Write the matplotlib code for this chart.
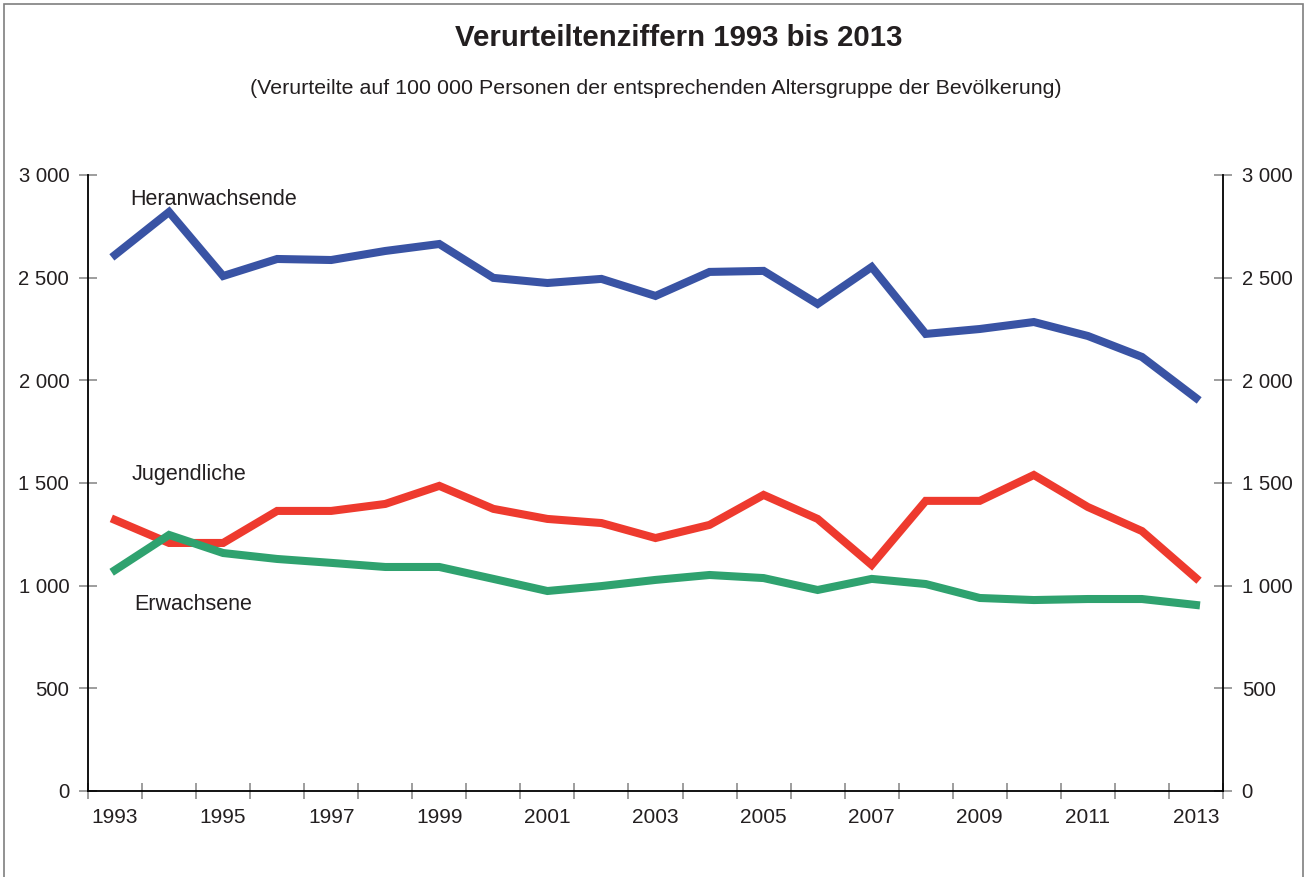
import matplotlib
matplotlib.use("Agg")
import matplotlib.pyplot as plt
from matplotlib.ticker import FuncFormatter, MultipleLocator
from matplotlib.patches import Rectangle

plt.rcParams['font.family'] = ['Liberation Sans', 'DejaVu Sans']

years = list(range(1993, 2014))
heranwachsende = [2611, 2820, 2508, 2591, 2586, 2630, 2664, 2499, 2474, 2494, 2411,
                  2528, 2533, 2372, 2552, 2226, 2250, 2284, 2216, 2114, 1914]
jugendliche = [1320, 1208, 1208, 1364, 1364, 1398, 1486, 1374, 1325, 1305, 1232,
               1296, 1442, 1325, 1101, 1413, 1413, 1539, 1383, 1266, 1037]
erwachsene = [1076, 1247, 1159, 1130, 1111, 1091, 1091, 1033, 974, 998, 1028,
              1052, 1037, 979, 1033, 1008, 940, 930, 935, 935, 906]

BLUE = "#3953a4"
RED = "#ee3a2e"
GREEN = "#2fa26f"
TXT = "#231f20"

fig = plt.figure(figsize=(13.06, 8.77), dpi=100)
ax = fig.add_axes([88/1306, 1-791/877, (1223-88)/1306, (791-175)/877])

x = list(range(len(years)))
ax.plot(x, heranwachsende, color=BLUE, lw=5.8, solid_joinstyle="miter")
ax.plot(x, jugendliche, color=RED, lw=5.8, solid_joinstyle="miter")
ax.plot(x, erwachsene, color=GREEN, lw=5.8, solid_joinstyle="miter")

ax.set_xlim(-0.5, len(years) - 0.5)
ax.set_ylim(0, 3000)

fmt = FuncFormatter(lambda v, p: f"{int(v):,}".replace(",", " "))
ax.yaxis.set_major_locator(MultipleLocator(500))
ax.yaxis.set_major_formatter(fmt)
ax.tick_params(axis="y", which="major", direction="inout", length=13, width=1.2,
               color="#8c8c8c", labelsize=14.6, labelcolor=TXT, pad=7,
               left=True, right=True, labelleft=True, labelright=True)

ax.set_xticks(x[::2])
ax.set_xticklabels([str(y) for y in years[::2]])
ax.set_xticks([i - 0.5 for i in range(len(years) + 1)], minor=True)
ax.tick_params(axis="x", which="major", length=0, labelsize=15, labelcolor=TXT, pad=12)
ax.tick_params(axis="x", which="minor", direction="inout", length=12, width=1.2,
               color="#8c8c8c")

for s in ["left", "right", "bottom"]:
    ax.spines[s].set_linewidth(1.3)
    ax.spines[s].set_color("black")
ax.spines["top"].set_visible(False)

ax.text(0.28, 2879, "Heranwachsende", fontsize=15.5, color=TXT, va="center", ha="left")
ax.text(0.30, 1539, "Jugendliche", fontsize=15.5, color=TXT, va="center", ha="left")
ax.text(0.35, 906, "Erwachsene", fontsize=15.5, color=TXT, va="center", ha="left")

fig.text(679/1306, 1-38/877, "Verurteiltenziffern 1993 bis 2013", fontsize=21.2,
         fontweight="bold", color=TXT, ha="center", va="center")
fig.text(656/1306, 1-88/877,
         "(Verurteilte auf 100 000 Personen der entsprechenden Altersgruppe der Bevölkerung)",
         fontsize=15.4, color=TXT, ha="center", va="center")

fig.patches.append(Rectangle((4/1306, -0.05), (1303-4)/1306, 1.05-4/877,
                             transform=fig.transFigure, fill=False,
                             edgecolor="#7f7f7f", lw=1.2))

fig.savefig("out.png", dpi=100)
